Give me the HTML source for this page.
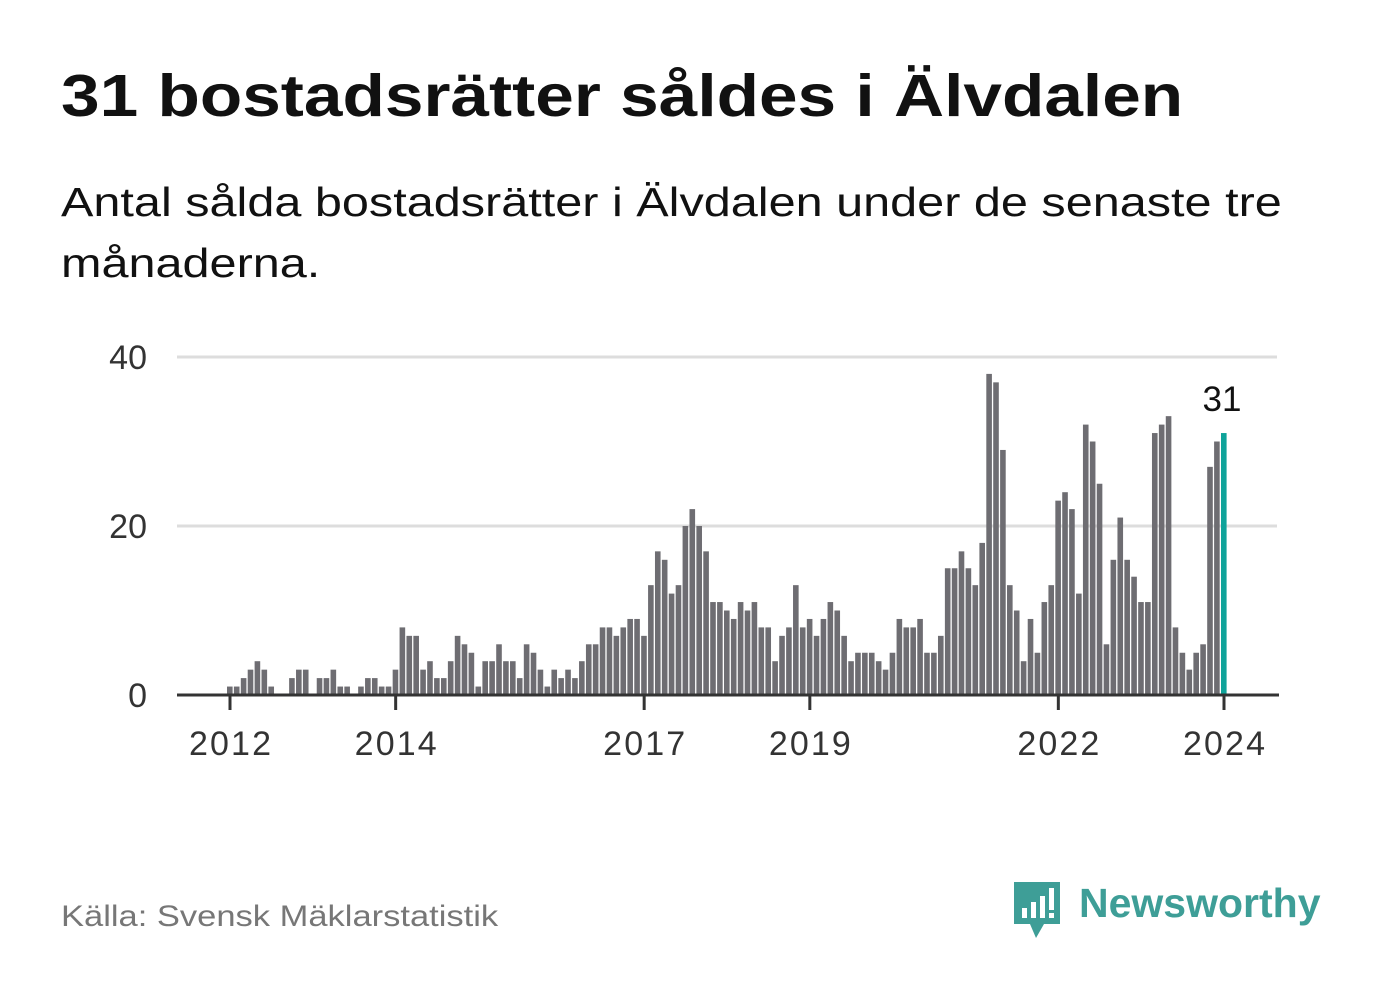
<!DOCTYPE html>
<html><head><meta charset="utf-8"><style>
body{margin:0;background:#fff;width:1382px;height:999px;overflow:hidden;font-family:"Liberation Sans",sans-serif;position:relative}
h1{position:absolute;left:61px;top:62px;margin:0;font-size:59px;font-weight:bold;color:#111;transform-origin:0 0;transform:scaleX(1.176);white-space:nowrap}
.sub{position:absolute;left:61px;top:172px;font-size:41px;line-height:61px;color:#111;transform-origin:0 0;transform:scaleX(1.185);white-space:nowrap}
.src{position:absolute;left:61px;top:900px;font-size:30px;color:#777;transform-origin:0 0;transform:scaleX(1.15);white-space:nowrap}
</style></head><body>
<h1>31 bostadsrätter såldes i Älvdalen</h1>
<div class="sub">Antal sålda bostadsrätter i Älvdalen under de senaste tre<br>månaderna.</div>
<svg id="chart" width="1382" height="999" style="position:absolute;left:0;top:0" xmlns="http://www.w3.org/2000/svg"></svg>
<div class="src">Källa: Svensk Mäklarstatistik</div>
<div style="position:absolute;left:1012px;top:880px;">
<svg width="50" height="60"><path d="M2 2h46v42H32l-8 14-6-14H2z" fill="#3e9e97"/><rect x="10" y="28" width="5" height="10" fill="#fff"/><rect x="19" y="22" width="5" height="16" fill="#fff"/><rect x="28" y="16" width="5" height="22" fill="#fff"/><rect x="37" y="8" width="5" height="22" fill="#fff"/><rect x="37" y="33" width="5" height="5" fill="#fff"/></svg>
<span style="position:absolute;left:67px;top:0px;font-size:41px;font-weight:bold;color:#3e9e97;white-space:nowrap">Newsworthy</span>
</div>
<script>
const values=[1,1,2,3,4,3,1,0,0,2,3,3,
0,2,2,3,1,1,0,1,2,2,1,1,
3,8,7,7,3,4,2,2,4,7,6,5,
1,4,4,6,4,4,2,6,5,3,1,3,
2,3,2,4,6,6,8,8,7,8,9,9,
7,13,17,16,12,13,20,22,20,17,11,11,
10,9,11,10,11,8,8,4,7,8,13,8,
9,7,9,11,10,7,4,5,5,5,4,3,
5,9,8,8,9,5,5,7,15,15,17,15,
13,18,38,37,29,13,10,4,9,5,11,13,
23,24,22,12,32,30,25,6,16,21,16,14,
11,11,31,32,33,8,5,3,5,6,27,30,
31];
const startYear=2012;
const yTicks=[0,20,40];
const xTickYears=[2012,2014,2017,2019,2022,2024];
const svg=document.getElementById('chart');
const NS='http://www.w3.org/2000/svg';
const y=v=>695-v*(338/40);
const x=i=>230+i*(994/144);
function mk(t,a){const e=document.createElementNS(NS,t);for(const k in a)e.setAttribute(k,a[k]);svg.appendChild(e);return e;}
yTicks.forEach(t=>{
 if(t>0){const g=mk('line',{x1:177,x2:1277,y1:y(t),y2:y(t),stroke:'#ddd','stroke-width':3});
 
 }
 const l=mk('text',{x:147,y:y(t)+12,'text-anchor':'end','font-size':34,fill:'#333','font-family':'Liberation Sans, sans-serif'});
 l.textContent=t;
 
 
});
values.forEach((v,i)=>{
 const last=i===values.length-1;
 const r=mk('rect',{x:x(i)-3,y:y(v),width:5.6,height:695-y(v),fill:last?'#0fa39a':'#6e6d72'});
 
 
});
const base=mk('line',{x1:177,x2:1279,y1:695,y2:695,stroke:'#333','stroke-width':3});


xTickYears.forEach(yr=>{
 const i=(yr-startYear)*12;
 const tk=mk('line',{x1:x(i),x2:x(i),y1:695,y2:710,stroke:'#333','stroke-width':3});
 
 
 const l=mk('text',{x:x(i),y:755,'text-anchor':'middle','font-size':34,fill:'#333','font-family':'Liberation Sans, sans-serif','textLength':82});
 l.textContent=yr;
 
 
});
const li=values.length-1;
const lab=mk('text',{x:x(li)-2,y:y(values[li])-22,'text-anchor':'middle','font-size':35,fill:'#111','font-family':'Liberation Sans, sans-serif'});
lab.textContent=values[li];


</script>
</body></html>
